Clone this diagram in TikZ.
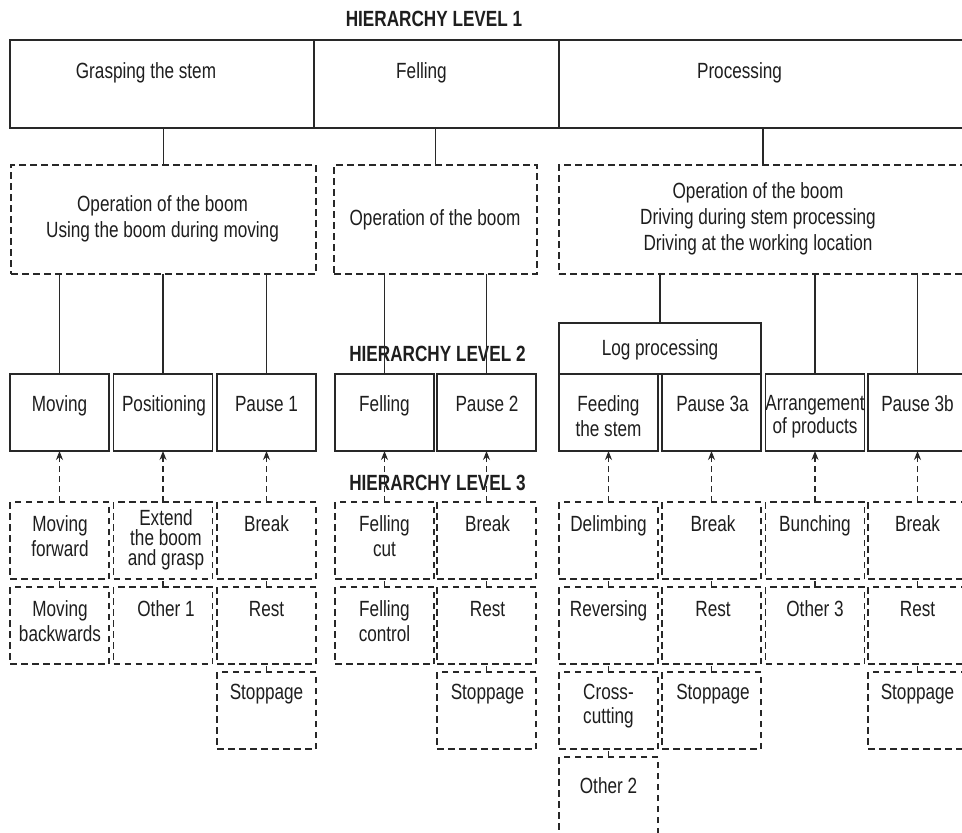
\documentclass[tikz,border=0pt]{standalone}
\usepackage{fontspec}
\usetikzlibrary{arrows.meta,calc}
\newfontfamily\mainf[FakeStretch=0.78]{Liberation Sans}
\definecolor{linec}{RGB}{40,40,40}
\definecolor{txtc}{RGB}{30,30,30}
\newcommand\mlt[2][24.5pt]{\vtop{\baselineskip=#1\relax\lineskiplimit=-30pt\relax\let\\\cr\halign{\hfil##\hfil\cr#2\crcr}}}
\begin{document}
\begin{tikzpicture}[x=1pt,y=-1pt,
 every node/.style={inner sep=0pt, outer sep=0pt},
 sbox/.style={draw=linec, line width=1.6pt, rectangle, minimum height=77pt, minimum width=99pt},
 topbox/.style={draw=linec, line width=2pt, rectangle, minimum height=88pt},
 midbox/.style={draw=linec, line width=1.7pt, dash pattern=on 7pt off 4pt, rectangle, minimum height=109pt},
 dbox/.style={draw=linec, line width=1.3pt, dash pattern=on 6.5pt off 4.5pt, rectangle, minimum height=77pt, minimum width=99pt},
 txt/.style={font=\mainf\fontsize{22}{25}\selectfont, text=txtc, anchor=base},
 hdr/.style={font=\mainf\bfseries\fontsize{22}{25}\selectfont, text=txtc, anchor=base},
 conn/.style={draw=linec, line width=1.3pt},
 darr/.style={draw=linec, line width=1.3pt, dash pattern=on 6pt off 4pt, -{Stealth[length=9pt,width=7pt]}},
 rowlink/.style={draw=linec, line width=1.3pt, dash pattern=on 6.5pt off 4.5pt},
]
\fill[white] (0,0) rectangle (962,833);
\useasboundingbox (0,0) rectangle (962,833);

% ---------- level 1 ----------
\node[hdr] (h1) at (434,26) {HIERARCHY LEVEL 1};
\node[topbox, minimum width=304pt] (g1) at (162,84) {};
\node[topbox, minimum width=245pt] (f1) at (436.5,84) {};
\node[topbox, minimum width=408pt] (p1) at (763,84) {};
\node[txt] (g1t) at (146,78) {Grasping the stem};
\node[txt] (f1t) at (421.5,78) {Felling};
\node[txt] (p1t) at (739.5,78.5) {Processing};

% ---------- level 1.5 ----------
\node[midbox, minimum width=305pt] (o1) at (163.5,219.5) {};
\node[midbox, minimum width=203pt] (o2) at (435.5,219.5) {};
\node[midbox, minimum width=408pt] (o3) at (763,219.5) {};
\node[txt] (o1t) at (162.5,211.7) {\mlt[26pt]{Operation of the boom\\Using the boom during moving}};
\node[txt] (o2t) at (435,225) {Operation of the boom};
\node[txt] (o3t) at (758,198.3) {\mlt[26pt]{Operation of the boom\\Driving during stem processing\\Driving at the working location}};

\draw[conn] (o1.north) -- (o1.north |- g1.south);
\draw[conn] (o2.north) -- (o2.north |- f1.south);
\draw[conn] (o3.north) -- (o3.north |- p1.south);

% ---------- level 2 ----------
\node[hdr] (h2) at (437.5,361) {HIERARCHY LEVEL 2};
\node[sbox] (a1) at (59.5,412.5) {};
\node[sbox] (a2) at (163,412.5) {};
\node[sbox] (a3) at (266.5,412.5) {};
\node[sbox] (a4) at (384.5,412.5) {};
\node[sbox] (a5) at (486.5,412.5) {};
\node[sbox] (a6) at (608.5,412.5) {};
\node[sbox] (a7) at (711.5,412.5) {};
\node[sbox] (a8) at (815,412.5) {};
\node[sbox] (a9) at (917.5,412.5) {};
\node[sbox, minimum width=202pt, minimum height=51pt] (lp) at (660,348.5) {};

\node[txt] (a1t) at (59.5,411.7) {Moving};
\node[txt] (a2t) at (164,411.7) {Positioning};
\node[txt] (a3t) at (266.5,411.7) {Pause 1};
\node[txt] (a4t) at (384.5,411.7) {Felling};
\node[txt] (a5t) at (487,411.7) {Pause 2};
\node[txt] (a6t) at (608.5,411.7) {\mlt[25pt]{Feeding\\the stem}};
\node[txt] (a7t) at (712.5,411.7) {Pause 3a};
\node[txt] (a8t) at (815,410) {\mlt[23.5pt]{Arrangement\\of products}};
\node[txt] (a9t) at (917.5,411.7) {Pause 3b};
\node[txt] (lpt) at (660,355) {Log processing};

\draw[conn] (a1.north) -- (a1.north |- o1.south);
\draw[conn] (a2.north) -- (a2.north |- o1.south);
\draw[conn] (a3.north) -- (a3.north |- o1.south);
\draw[conn] (a4.north) -- (a4.north |- o2.south);
\draw[conn] (a5.north) -- (a5.north |- o2.south);
\draw[conn] (lp.north) -- (lp.north |- o3.south);
\draw[conn] (a8.north) -- (a8.north |- o3.south);
\draw[conn] (a9.north) -- (a9.north |- o3.south);

% ---------- level 3 ----------
\node[hdr] (h3) at (437.5,490) {HIERARCHY LEVEL 3};
% column 1
\node[dbox] (r1c1) at (59.5,540.5) {};
\node[dbox] (r2c1) at (59.5,625.5) {};
\node[txt] at (60,531.7) (t1c1) {\mlt{Moving\\forward}};
\node[txt] at (60,616.7) (t2c1) {\mlt{Moving\\backwards}};
% column 2
\node[dbox] (r1c2) at (163,540.5) {};
\node[dbox] (r2c2) at (163,625.5) {};
\node[txt] at (166,525) (t1c2) {\mlt[20pt]{Extend\\the boom\\and grasp}};
\node[txt] at (166,616.7) (t2c2) {Other 1};
% column 3
\node[dbox] (r1c3) at (266.5,540.5) {};
\node[dbox] (r2c3) at (266.5,625.5) {};
\node[dbox] (r3c3) at (266.5,710.5) {};
\node[txt] at (266.5,531.7) (t1c3) {Break};
\node[txt] at (266.5,616.7) (t2c3) {Rest};
\node[txt] at (266.5,699.3) (t3c3) {Stoppage};
% column 4
\node[dbox] (r1c4) at (384.5,540.5) {};
\node[dbox] (r2c4) at (384.5,625.5) {};
\node[txt] at (384.5,531.7) (t1c4) {\mlt{Felling\\cut}};
\node[txt] at (384.5,616.7) (t2c4) {\mlt{Felling\\control}};
% column 5
\node[dbox] (r1c5) at (486.5,540.5) {};
\node[dbox] (r2c5) at (486.5,625.5) {};
\node[dbox] (r3c5) at (486.5,710.5) {};
\node[txt] at (487.5,531.7) (t1c5) {Break};
\node[txt] at (487.5,616.7) (t2c5) {Rest};
\node[txt] at (487.5,699.3) (t3c5) {Stoppage};
% column 6
\node[dbox] (r1c6) at (608.5,540.5) {};
\node[dbox] (r2c6) at (608.5,625.5) {};
\node[dbox] (r3c6) at (608.5,710.5) {};
\node[dbox] (r4c6) at (608.5,795.5) {};
\node[txt] at (608.5,531.7) (t1c6) {Delimbing};
\node[txt] at (608.5,616.7) (t2c6) {Reversing};
\node[txt] at (608.5,699.3) (t3c6) {\mlt{Cross-\\cutting}};
\node[txt] at (608.5,793) (t4c6) {Other 2};
% column 7
\node[dbox] (r1c7) at (711.5,540.5) {};
\node[dbox] (r2c7) at (711.5,625.5) {};
\node[dbox] (r3c7) at (711.5,710.5) {};
\node[txt] at (713,531.7) (t1c7) {Break};
\node[txt] at (713,616.7) (t2c7) {Rest};
\node[txt] at (713,699.3) (t3c7) {Stoppage};
% column 8
\node[dbox] (r1c8) at (815,540.5) {};
\node[dbox] (r2c8) at (815,625.5) {};
\node[txt] at (815,531.7) (t1c8) {Bunching};
\node[txt] at (815,616.7) (t2c8) {Other 3};
% column 9
\node[dbox] (r1c9) at (917.5,540.5) {};
\node[dbox] (r2c9) at (917.5,625.5) {};
\node[dbox] (r3c9) at (917.5,710.5) {};
\node[txt] at (917.5,531.7) (t1c9) {Break};
\node[txt] at (917.5,616.7) (t2c9) {Rest};
\node[txt] at (917.5,699.3) (t3c9) {Stoppage};

% dashed arrows level 3 -> level 2
\foreach \c in {1,...,9}{
  \draw[darr] (r1c\c.north) -- (a\c.south);
}
% links between stacked level-3 boxes
\foreach \c in {1,...,9}{
  \draw[rowlink] (r2c\c.north) -- (r1c\c.south);
}
\foreach \c in {3,5,6,7,9}{
  \draw[rowlink] (r3c\c.north) -- (r2c\c.south);
}
\draw[rowlink] (r4c6.north) -- (r3c6.south);
\end{tikzpicture}
\end{document}
